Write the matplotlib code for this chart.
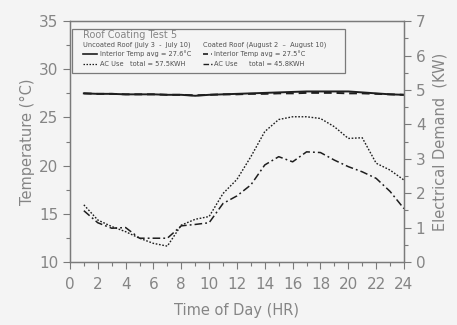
import numpy as np
import matplotlib
matplotlib.use("Agg")
import matplotlib.pyplot as plt
from matplotlib.patches import Rectangle
from matplotlib.lines import Line2D
from matplotlib.ticker import MultipleLocator

# --------------------------------------------------
# Data
# --------------------------------------------------
hours = list(range(1, 25))

temp_uncoated = [27.50, 27.45, 27.45, 27.40, 27.40, 27.40, 27.35, 27.35,
                 27.25, 27.35, 27.40, 27.45, 27.50, 27.55, 27.60, 27.65,
                 27.70, 27.70, 27.70, 27.70, 27.60, 27.50, 27.40, 27.35]
temp_coated = [27.50, 27.45, 27.45, 27.40, 27.40, 27.40, 27.35, 27.35,
               27.30, 27.35, 27.40, 27.40, 27.45, 27.45, 27.50, 27.50,
               27.55, 27.55, 27.55, 27.50, 27.50, 27.45, 27.40, 27.35]

ac_uncoated = [1.66, 1.22, 1.03, 0.88, 0.69, 0.54, 0.46, 1.07,
               1.24, 1.32, 1.99, 2.40, 3.06, 3.79, 4.14, 4.22,
               4.22, 4.17, 3.93, 3.59, 3.61, 2.87, 2.67, 2.38]
ac_coated = [1.49, 1.14, 0.98, 1.00, 0.69, 0.69, 0.69, 1.05,
             1.09, 1.14, 1.70, 1.92, 2.24, 2.82, 3.06, 2.91,
             3.20, 3.18, 2.96, 2.77, 2.62, 2.43, 2.05, 1.55]

xticks = list(range(0, 25, 2))

# --------------------------------------------------
# Styling
# --------------------------------------------------
txt = "#858585"
legtxt = "#505050"
axc = "#7a7a7a"
ink = "#1e1e1e"
bg = "#f4f4f4"

fig = plt.figure(figsize=(4.57, 3.25), dpi=100, facecolor=bg)
ax = fig.add_axes([0.153, 0.194, 0.731, 0.741], facecolor=bg)
ax2 = ax.twinx()

ax.plot(hours, temp_uncoated, color=ink, lw=1.4, ls="-")
ax.plot(hours, temp_coated, color=ink, lw=1.4, dashes=(4, 2.5))
ax2.plot(hours, ac_uncoated, color=ink, lw=1.0, dashes=(1.2, 1.2))
ax2.plot(hours, ac_coated, color=ink, lw=1.1, dashes=(5, 2, 1.2, 2))

ax.set_xlim(0, 24)
ax.set_ylim(10, 35)
ax2.set_ylim(0, 7)
ax.set_xticks(xticks)
ax.xaxis.set_minor_locator(MultipleLocator(1))
ax.yaxis.set_major_locator(MultipleLocator(5))
ax.yaxis.set_minor_locator(MultipleLocator(2.5))
ax2.yaxis.set_major_locator(MultipleLocator(1))
ax2.yaxis.set_minor_locator(MultipleLocator(0.5))

for a in (ax, ax2):
    for s in a.spines.values():
        s.set_color(axc)
        s.set_linewidth(0.9)
    a.tick_params(which="major", length=5, width=0.8, color=axc,
                  labelcolor=txt, labelsize=11, direction="out")
    a.tick_params(which="minor", length=3, width=0.8, color=axc,
                  direction="out")
ax.tick_params(axis="x", pad=6)

ax.set_xlabel("Time of Day (HR)", color=txt, fontsize=10.5, labelpad=8)
ax.set_ylabel("Temperature (\u00b0C)", color=txt, fontsize=10.5, labelpad=3)
ax2.set_ylabel("Electrical Demand  (KW)", color=txt, fontsize=10.5, labelpad=5)

# --------------------------------------------------
# Legend box (hand-built, like the original)
# --------------------------------------------------
def fx(px):
    return px / 457.0

def fy(py):
    return 1 - py / 325.0

fig.add_artist(Rectangle((fx(72), fy(73)), fx(345) - fx(72), fy(29) - fy(73),
                         transform=fig.transFigure, fill=False,
                         edgecolor=axc, lw=0.9))
fig.text(fx(83), fy(35.5), "Roof Coating Test 5", color=txt, fontsize=7,
         va="center", ha="left")

small = 4.8
fig.text(fx(83), fy(45), "Uncoated Roof (July 3  -  July 10)", color=legtxt,
         fontsize=small, va="center")
fig.text(fx(203), fy(45), "Coated Roof (August 2  \u2013  August 10)",
         color=legtxt, fontsize=small, va="center")

samples = [
    (83, 97, 54, dict(ls="-", lw=1.2)),
    (83, 97, 64, dict(dashes=(1.2, 1.2), lw=0.9)),
    (203, 212, 54, dict(dashes=(3, 2), lw=1.2)),
    (203, 212, 64, dict(dashes=(4, 1.5, 1, 1.5), lw=1.0)),
]
for x0, x1, yy, kw in samples:
    fig.add_artist(Line2D([fx(x0), fx(x1)], [fy(yy), fy(yy)],
                          transform=fig.transFigure, color=ink, **kw))

fig.text(fx(100), fy(54), "Interior Temp avg = 27.6\u00b0C", color=legtxt,
         fontsize=small, va="center")
fig.text(fx(100), fy(64), "AC Use", color=legtxt, fontsize=small, va="center")
fig.text(fx(130), fy(64), "total = 57.5KWH", color=legtxt, fontsize=small,
         va="center")
fig.text(fx(214), fy(54), "Interior Temp avg = 27.5\u00b0C", color=legtxt,
         fontsize=small, va="center")
fig.text(fx(214), fy(64), "AC Use", color=legtxt, fontsize=small, va="center")
fig.text(fx(249), fy(64), "total = 45.8KWH", color=legtxt, fontsize=small,
         va="center")

fig.savefig("out.png", dpi=100, facecolor=bg)
